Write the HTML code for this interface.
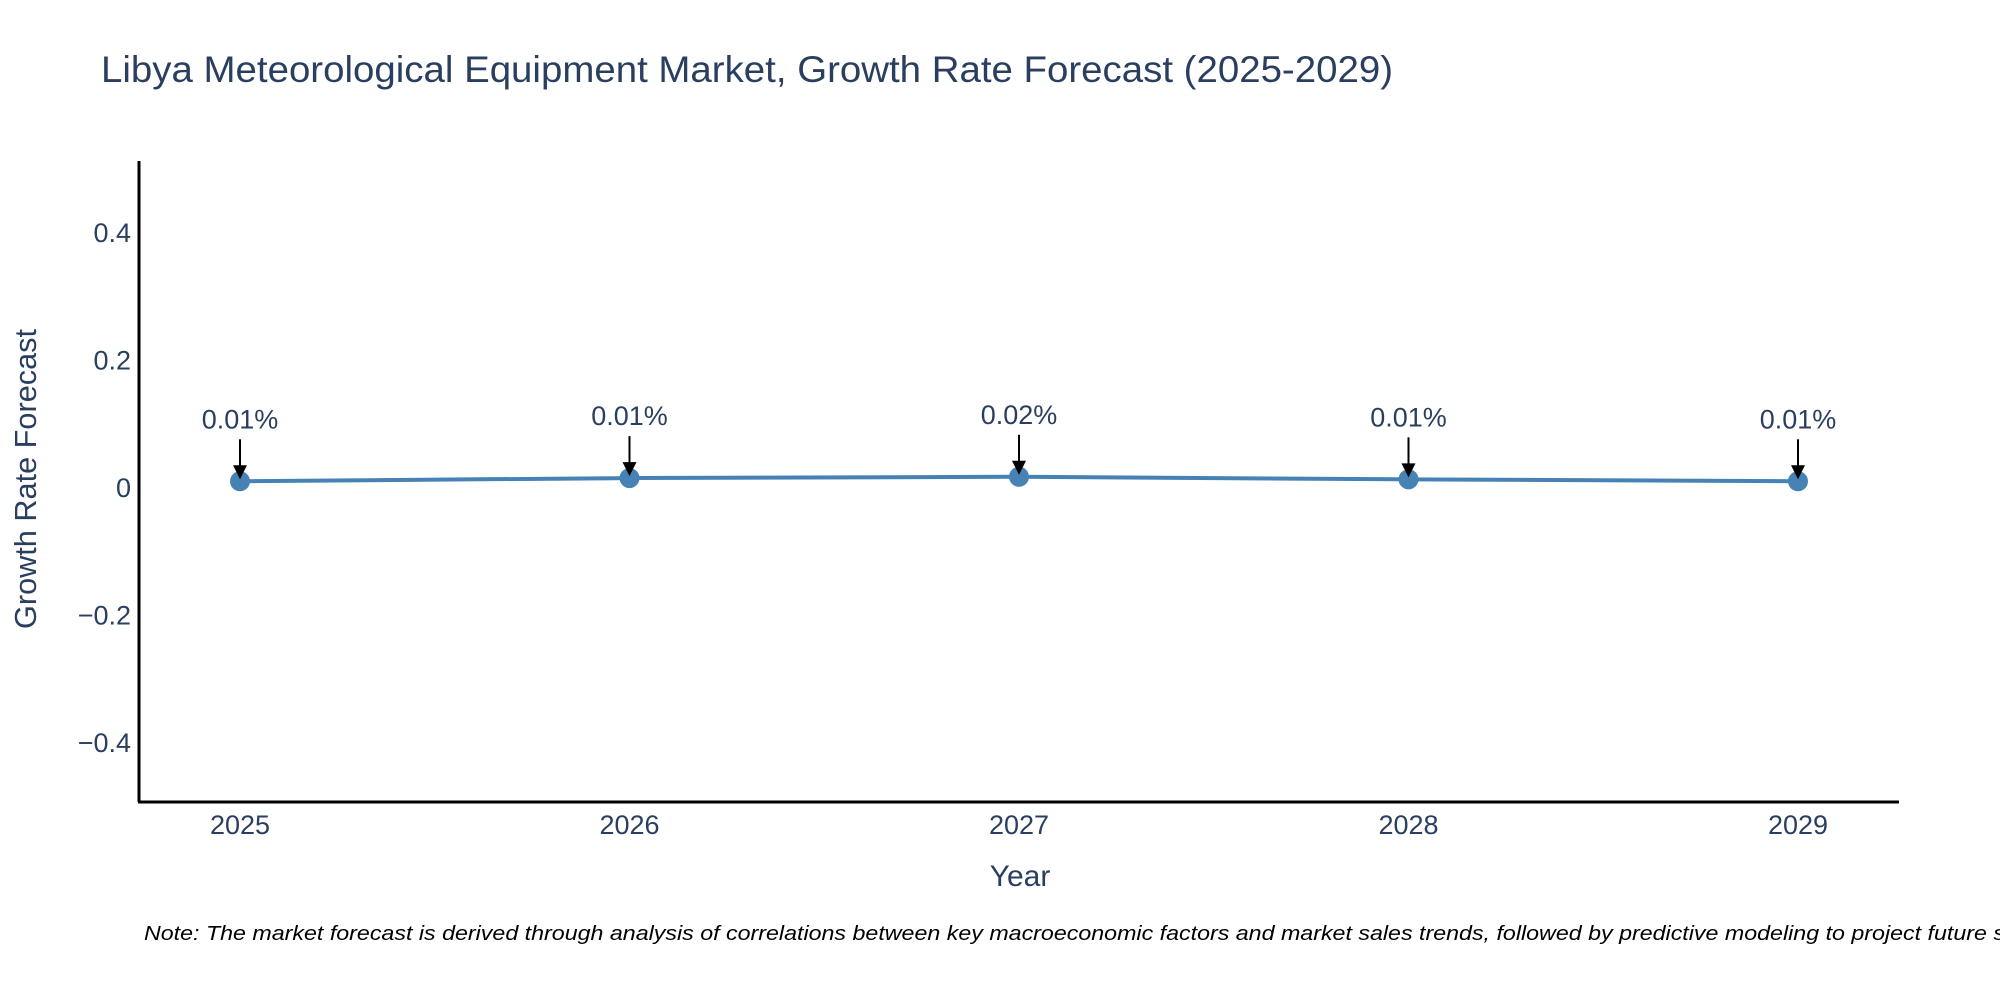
<!DOCTYPE html>
<html><head><meta charset="utf-8"><style>
body{margin:0;background:#fff;width:2000px;height:1000px;overflow:hidden;font-family:"Liberation Sans",sans-serif}
</style></head><body>
<svg width="2000" height="1000" style="font-family:'Liberation Sans',sans-serif">
<text x="101" y="82" font-size="37" textLength="1292" lengthAdjust="spacingAndGlyphs" fill="#2a3f5f">Libya Meteorological Equipment Market, Growth Rate Forecast (2025-2029)</text>
<g id="yticks"></g>
<g id="xticks"></g>
<line x1="139" y1="161" x2="139" y2="802" stroke="#000" stroke-width="3"/>
<line x1="138" y1="802" x2="1899" y2="802" stroke="#000" stroke-width="3"/>
<g id="series"></g>
<g id="annots"></g>
<text transform="translate(36,479) rotate(-90)" text-anchor="middle" font-size="31" textLength="300" lengthAdjust="spacingAndGlyphs" fill="#2a3f5f">Growth Rate Forecast</text>
<text x="1020" y="886" text-anchor="middle" font-size="30" fill="#2a3f5f">Year</text>
<text x="144" y="940" font-size="20" font-style="italic" textLength="1910" lengthAdjust="spacingAndGlyphs" fill="#000">Note: The market forecast is derived through analysis of correlations between key macroeconomic factors and market sales trends, followed by predictive modeling to project future sales.</text>
</svg>
<script>
const years=["2025","2026","2027","2028","2029"];
const values=[0.009,0.014,0.016,0.012,0.009];
const labels=["0.01%","0.01%","0.02%","0.01%","0.01%"];
const yTickVals=[0.4,0.2,0,-0.2,-0.4];
const yTickText=["0.4","0.2","0","\u22120.2","\u22120.4"];
const NS="http://www.w3.org/2000/svg";
function X(i){return 240+i*389.5;}
function Y(v){return 487-v*637.5;}
function mk(tag,attrs,parent){const e=document.createElementNS(NS,tag);for(const k in attrs)e.setAttribute(k,attrs[k]);parent.appendChild(e);return e;}
const yt=document.getElementById('yticks');
yTickVals.forEach((v,i)=>{const t=mk('text',{x:131,y:Y(v)+10,'text-anchor':'end','font-size':27,fill:'#2a3f5f'},yt);


t.textContent=yTickText[i];});
const xt=document.getElementById('xticks');
years.forEach((y,i)=>{const t=mk('text',{x:X(i),y:834,'text-anchor':'middle','font-size':27,fill:'#2a3f5f'},xt);


t.textContent=y;});
const s=document.getElementById('series');
const p=mk('polyline',{points:values.map((v,i)=>X(i)+','+Y(v)).join(' '),fill:'none',stroke:'#4682b4','stroke-width':4},s);


values.forEach((v,i)=>{const c=mk('circle',{cx:X(i),cy:Y(v),r:10,fill:'#4682b4'},s);

});
const a=document.getElementById('annots');
values.forEach((v,i)=>{const x=X(i),y=Y(v);
const l=mk('line',{x1:x,y1:y-42,x2:x,y2:y-14,stroke:'#000','stroke-width':2},a);


const h=mk('polygon',{points:`${x-7},${y-16} ${x+7},${y-16} ${x},${y-2}`,fill:'#000'},a);


const t=mk('text',{x:x,y:y-53,'text-anchor':'middle','font-size':27,fill:'#2a3f5f'},a);


t.textContent=labels[i];});
</script>
</body></html>
